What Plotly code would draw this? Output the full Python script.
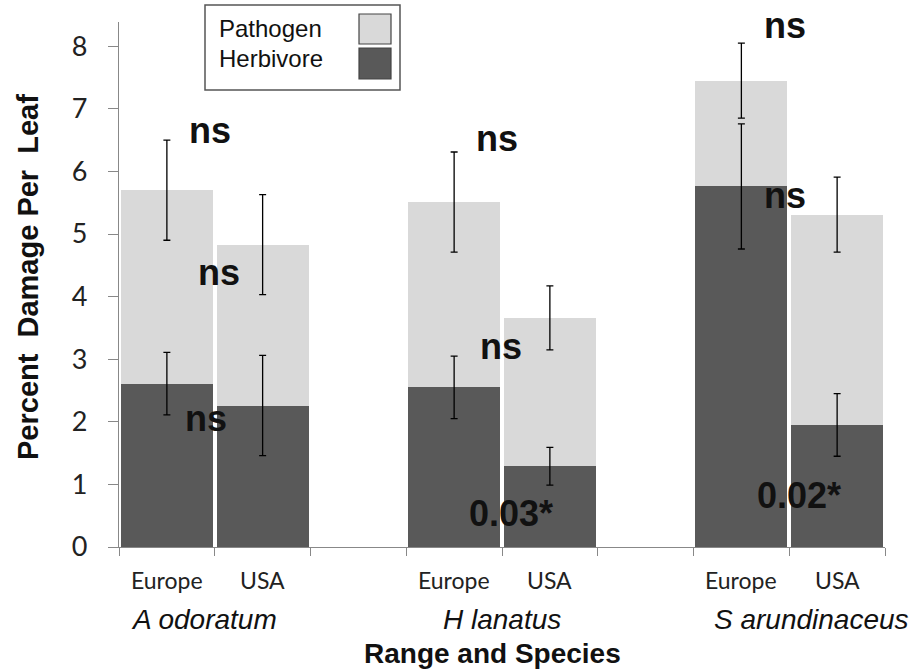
import plotly.graph_objects as go

# Leaf damage by range (Europe native / USA introduced) for three grass species
species = ["A odoratum", "H lanatus", "S arundinaceus"]
ranges = ["Europe", "USA"]

herbivore = [2.61, 2.26, 2.55, 1.29, 5.76, 1.95]
pathogen = [3.09, 2.57, 2.96, 2.37, 1.69, 3.36]
herbivore_se = [0.50, 0.80, 0.50, 0.30, 1.00, 0.50]
total_se = [0.80, 0.80, 0.80, 0.51, 0.60, 0.60]

# significance labels: text, x position (category units), y position (% damage)
sig_text = ["ns", "ns", "ns", "ns", "ns", "0.03*", "ns", "ns", "0.02*"]
sig_x = [0.95, 1.04, 0.91, 3.95, 3.99, 4.09, 6.96, 6.96, 7.10]
sig_y = [6.66, 4.38, 2.05, 6.52, 3.20, 0.54, 8.33, 5.62, 0.83]

y_ticks = [0, 1, 2, 3, 4, 5, 6, 7, 8]

LIGHT = "#d9d9d9"
DARK = "#595959"

# each species takes three slots: Europe, USA, empty spacer
xpos = [g * 3 + r + 0.5 for g in range(len(species)) for r in range(len(ranges))]
totals = [h + p for h, p in zip(herbivore, pathogen)]

fig = go.Figure()
fig.add_trace(go.Bar(
    x=xpos, y=herbivore, name="Herbivore", width=0.96,
    marker=dict(color=DARK, line=dict(width=0)), showlegend=False,
))
fig.add_trace(go.Bar(
    x=xpos, y=pathogen, name="Pathogen", width=0.96,
    marker=dict(color=LIGHT, line=dict(width=0)), showlegend=False,
))
# error bars drawn above both bar layers
err_style = dict(type="data", color="black", thickness=1.3, width=3.5)
fig.add_trace(go.Scatter(
    x=xpos, y=herbivore, mode="markers", marker=dict(size=1, opacity=0),
    error_y=dict(array=herbivore_se, **err_style), showlegend=False, hoverinfo="skip",
))
fig.add_trace(go.Scatter(
    x=xpos, y=totals, mode="markers", marker=dict(size=1, opacity=0),
    error_y=dict(array=total_se, **err_style), showlegend=False, hoverinfo="skip",
))

# plot area in pixels (914x672 page)
L, R, T, B = 119, 885, 22, 547


def px_x(p):
    return (p - L) / (R - L)


def px_y(p):
    return (B - p) / (B - T)


ann = []
for t, x, y in zip(sig_text, sig_x, sig_y):
    ann.append(dict(x=x, y=y, xref="x", yref="y", text="<b>" + t + "</b>", showarrow=False,
                    font=dict(family="Liberation Sans", size=36, color="#111"),
                    xanchor="center", yanchor="middle"))

# range labels under each bar
for i, x in enumerate(xpos):
    ann.append(dict(x=x, y=px_y(580), xref="x", yref="paper", text=ranges[i % 2],
                    showarrow=False, font=dict(family="Lato", size=23, color="#222"),
                    xanchor="center", yanchor="middle"))

# species labels
species_cx = [204, 502, 811]
for name, cx in zip(species, species_cx):
    ann.append(dict(x=px_x(cx), y=px_y(619), xref="paper", yref="paper",
                    text="<i>" + name + "</i>", showarrow=False,
                    font=dict(family="Liberation Sans", size=28, color="#111"),
                    xanchor="center", yanchor="middle"))

# axis titles
ann.append(dict(x=px_x(492), y=px_y(653), xref="paper", yref="paper",
                text="<b>Range and Species</b>", showarrow=False,
                font=dict(family="Liberation Sans", size=28, color="#111"),
                xanchor="center", yanchor="middle"))
ann.append(dict(x=px_x(28), y=px_y(277), xref="paper", yref="paper",
                text="<b>Percent  Damage Per  Leaf</b>", showarrow=False, textangle=-90,
                font=dict(family="Liberation Sans", size=29, color="#111"),
                xanchor="center", yanchor="middle"))

# legend box: labels on the left, swatches on the right
shapes = [
    dict(type="rect", xref="paper", yref="paper",
         x0=px_x(205), x1=px_x(400), y0=px_y(90), y1=px_y(5),
         line=dict(color="#555", width=1.5), fillcolor="white"),
    dict(type="rect", xref="paper", yref="paper",
         x0=px_x(359), x1=px_x(391), y0=px_y(44), y1=px_y(14),
         line=dict(color="#444", width=1.2), fillcolor=LIGHT),
    dict(type="rect", xref="paper", yref="paper",
         x0=px_x(359), x1=px_x(391), y0=px_y(79), y1=px_y(48),
         line=dict(color="#444", width=1.2), fillcolor=DARK),
]
for label, cy in (("Pathogen", 29), ("Herbivore", 58)):
    ann.append(dict(x=px_x(217), y=px_y(cy), xref="paper", yref="paper", text=label,
                    showarrow=False, font=dict(family="Liberation Sans", size=24, color="#111"),
                    xanchor="left", yanchor="middle"))

fig.update_layout(
    barmode="stack",
    width=914, height=672,
    margin=dict(l=L, r=914 - R, t=T, b=672 - B, pad=0),
    plot_bgcolor="white", paper_bgcolor="white",
    annotations=ann, shapes=shapes,
    xaxis=dict(range=[0, 8], tickvals=list(range(9)), ticktext=[""] * 9,
               ticks="outside", ticklen=8, tickcolor="#888", tickwidth=1.2,
               showline=True, linecolor="#888", linewidth=1.2,
               showgrid=False, zeroline=False, fixedrange=True),
    yaxis=dict(range=[0, (B - T) / 62.6], tickvals=y_ticks,
               ticks="outside", ticklen=10, tickcolor="#888", tickwidth=1.2,
               showline=True, linecolor="#888", linewidth=1.2,
               showgrid=False, zeroline=False, ticklabelstandoff=15,
               tickfont=dict(family="Lato", size=27, color="#222")),
)

fig.write_html("out.html")
